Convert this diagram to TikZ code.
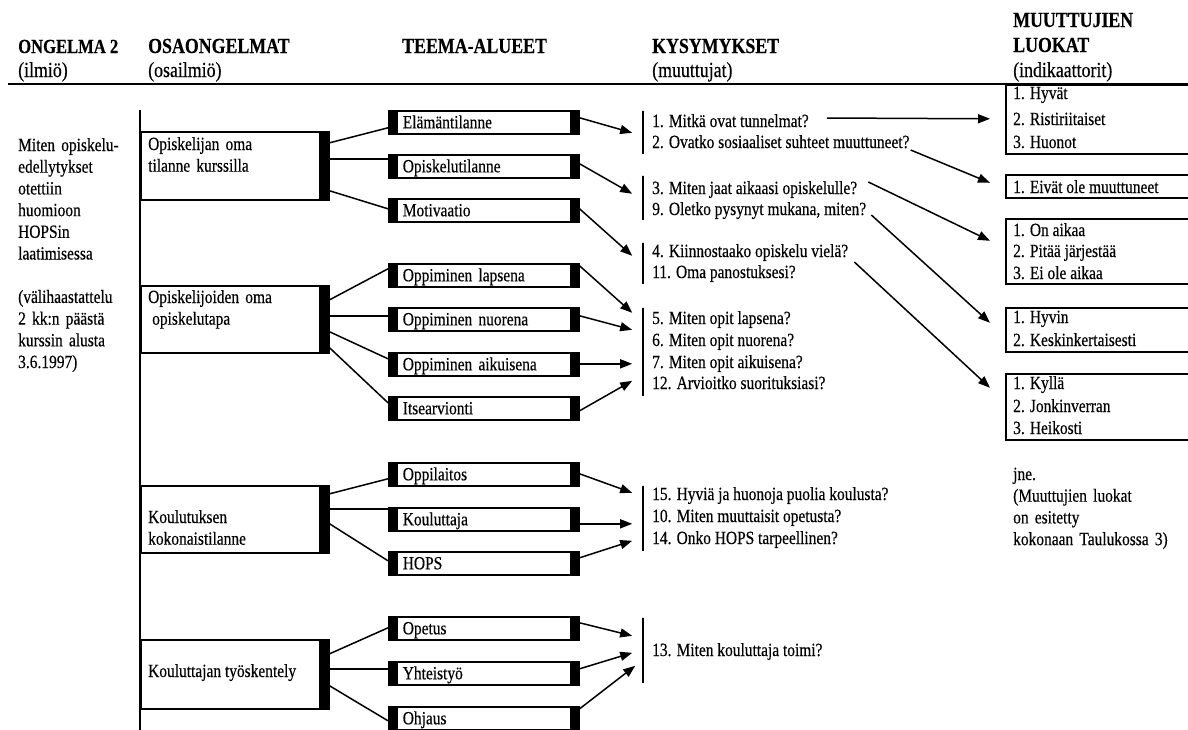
\documentclass[tikz,border=0pt]{standalone}
\usepackage{fontspec}
\setmainfont{Liberation Serif}[FakeStretch=0.83,FakeBold=0.35]
\usetikzlibrary{arrows.meta}

\begin{document}
\begin{tikzpicture}[x=1pt,y=-1pt,
  body/.style={font=\fontsize{18.6}{21.7}\selectfont, inner sep=0pt, anchor=base west},
  para/.style={body, text width=#1, align=left},
  head/.style={font=\fontsize{21.5}{24.5}\selectfont\bfseries, inner sep=0pt, anchor=base west},
  subhead/.style={font=\fontsize{21.5}{24.5}\selectfont, inner sep=0pt, anchor=base west},
  question/.style={body, text height=13pt, text depth=4pt},
  osabox/.style={draw, line width=1.6pt, anchor=north west, minimum width=188pt,
    minimum height=#1, inner sep=0pt,
    path picture={\fill ([xshift=-9.5pt]path picture bounding box.north east)
      rectangle (path picture bounding box.south east);}},
  themebox/.style={draw, line width=1.6pt, anchor=north west, minimum height=23pt,
    text width=162pt, inner xsep=14pt, inner ysep=0pt, align=left,
    text height=14pt, text depth=2pt, font=\fontsize{18.6}{21.7}\selectfont,
    path picture={\fill (path picture bounding box.north west)
      rectangle ([xshift=9pt]path picture bounding box.south west);
      \fill ([xshift=-8.5pt]path picture bounding box.north east)
      rectangle (path picture bounding box.south east);}},
  qbar/.style={draw, line width=1.6pt, anchor=north, minimum width=0pt,
    minimum height=#1, inner sep=0pt},
  catbox/.style={draw, line width=1.6pt, anchor=north west, minimum width=200pt,
    minimum height=#1, inner sep=0pt},
  conn/.style={line width=1.5pt},
  arr/.style={line width=1.5pt, -{Triangle[length=12pt,width=9pt]}}
]
\useasboundingbox (0,0) rectangle (1188,729);
\fill[white] (0,0) rectangle (1188,729);

% column headings
\node[head]    (h1)  at (18,53)   {\fontsize{20}{24}\selectfont ONGELMA 2};
\node[subhead] (h1s) at (18,77)   {(ilmiö)};
\node[head]    (h2)  at (148,53)  {OSAONGELMAT};
\node[subhead] (h2s) at (148,77)  {(osailmiö)};
\node[head]    (h3)  at (402,53)  {TEEMA-ALUEET};
\node[head]    (h4)  at (652,53)  {KYSYMYKSET};
\node[subhead] (h4s) at (652,77)  {(muuttujat)};
\node[head]    (h5a) at (1013,27) {MUUTTUJIEN};
\node[head]    (h5b) at (1013,52) {LUOKAT};
\node[subhead] (h5s) at (1013,77) {(indikaattorit)};

\coordinate (ruleL) at (8,84);
\coordinate (ruleR) at (1188,84);
\draw[line width=2.4pt] (ruleL) -- (ruleR);

% main problem
\node[para=125pt] (prob) at (18,151) {Miten opiskelu-\\edellytykset\\otettiin\\huomioon\\HOPSin\\laatimisessa\\[21.7pt](välihaastattelu\\2 kk:n päästä\\kurssin alusta\\3.6.1997)};

% spine of the sub-problems
\coordinate (spineT) at (140,110);
\coordinate (spineB) at (140,735);
\draw[conn] (spineT) -- (spineB);

% sub-problems
\node[osabox=68pt] (o1) at (140,131) {};
\node[osabox=67pt] (o2) at (140,285) {};
\node[osabox=67pt] (o3) at (140,485) {};
\node[osabox=69pt] (o4) at (140,639) {};
\node[para=170pt] (o1t) at (148,150) {Opiskelijan oma\\tilanne kurssilla};
\node[para=170pt] (o2t) at (148,303) {Opiskelijoiden oma\\\hspace*{4pt}opiskelutapa};
\node[para=170pt] (o3t) at (148,523) {Koulutuksen\\kokonaistilanne};
\node[body] (o4t) at (148,677) {Kouluttajan työskentely};

% theme areas
\node[themebox] (t1)  at (388,110) {Elämäntilanne};
\node[themebox] (t2)  at (388,154) {Opiskelutilanne};
\node[themebox] (t3)  at (388,198) {Motivaatio};
\node[themebox] (t4)  at (388,263) {Oppiminen lapsena};
\node[themebox] (t5)  at (388,307) {Oppiminen nuorena};
\node[themebox] (t6)  at (388,352) {Oppiminen aikuisena};
\node[themebox] (t7)  at (388,396) {Itsearvionti};
\node[themebox] (t8)  at (388,462) {Oppilaitos};
\node[themebox] (t9)  at (388,507) {Kouluttaja};
\node[themebox] (t10) at (388,551) {HOPS};
\node[themebox] (t11) at (388,616) {Opetus};
\node[themebox] (t12) at (388,661) {Yhteistyö};
\node[themebox] (t13) at (388,706) {Ohjaus};

% sub-problem -> theme links
\draw[conn] ([yshift=23pt]o1.east)    -- ([yshift=-5.5pt]t1.west);
\draw[conn] ([yshift=7pt]o1.east)     -- ([yshift=7.5pt]t2.west);
\draw[conn] ([yshift=-25pt]o1.east)   -- ([yshift=1.5pt]t3.west);
\draw[conn] ([yshift=19.5pt]o2.east)  -- ([yshift=6.5pt]t4.west);
\draw[conn] ([yshift=3.5pt]o2.east)   -- ([yshift=3.5pt]t5.west);
\draw[conn] ([yshift=-12.5pt]o2.east) -- ([yshift=5.5pt]t6.west);
\draw[conn] ([yshift=-28.5pt]o2.east) -- ([yshift=5.5pt]t7.west);
\draw[conn] ([yshift=25.5pt]o3.east)  -- ([yshift=-4.5pt]t8.west);
\draw[conn] ([yshift=10.5pt]o3.east)  -- ([yshift=10.5pt]t9.west);
\draw[conn] ([yshift=-4.5pt]o3.east)  -- ([yshift=2.5pt]t10.west);
\draw[conn] ([yshift=20.5pt]o4.east)  -- ([yshift=0.5pt]t11.west);
\draw[conn] ([yshift=5.5pt]o4.east)   -- ([yshift=4.5pt]t12.west);
\draw[conn] ([yshift=-11.5pt]o4.east) -- ([yshift=-2.5pt]t13.west);

% question groups
\node[qbar=43pt] (g1) at (643,110) {};
\node[qbar=44pt] (g2) at (643,175) {};
\node[qbar=41pt] (g3) at (643,242) {};
\node[qbar=88pt] (g4) at (643,307) {};
\node[qbar=65pt] (g5) at (643,485) {};
\node[qbar=65pt] (g6) at (643,617) {};

\node[question] (q1)  at (652,127) {1. Mitkä ovat tunnelmat?};
\node[question] (q2)  at (652,148) {2. Ovatko sosiaaliset suhteet muuttuneet?};
\node[question] (q3)  at (652,194) {3. Miten jaat aikaasi opiskelulle?};
\node[question] (q9)  at (652,215) {9. Oletko pysynyt mukana, miten?};
\node[question] (q4)  at (652,257) {4. Kiinnostaako opiskelu vielä?};
\node[question] (q11) at (652,278) {11. Oma panostuksesi?};
\node[question] (q5)  at (652,324) {5. Miten opit lapsena?};
\node[question] (q6)  at (652,346) {6. Miten opit nuorena?};
\node[question] (q7)  at (652,368) {7. Miten opit aikuisena?};
\node[question] (q12) at (652,389) {12. Arvioitko suorituksiasi?};
\node[question] (q15) at (652,500) {15. Hyviä ja huonoja puolia koulusta?};
\node[question] (q10) at (652,522) {10. Miten muuttaisit opetusta?};
\node[question] (q14) at (652,544) {14. Onko HOPS tarpeellinen?};
\node[question] (q13) at (652,656) {13. Miten kouluttaja toimi?};

% theme -> question arrows
\draw[arr] ([yshift=4.5pt]t1.east)  -- ([xshift=-10pt,yshift=-0.5pt]g1.west);
\draw[arr] ([yshift=2.5pt]t2.east)  -- ([xshift=-10pt,yshift=4pt]g2.west);
\draw[arr] ([yshift=1.5pt]t3.east)  -- ([xshift=-10pt,yshift=7.5pt]g3.west);
\draw[arr] ([yshift=9.5pt]t4.east)  -- ([xshift=-10pt,yshift=39pt]g4.west);
\draw[arr] ([yshift=3.5pt]t5.east)  -- ([xshift=-10pt,yshift=22pt]g4.west);
\draw[arr] ([yshift=0.5pt]t6.east)  -- ([xshift=-10pt,yshift=-12pt]g4.west);
\draw[arr] ([yshift=-2.5pt]t7.east) -- ([xshift=-10pt,yshift=-29pt]g4.west);
\draw[arr] ([yshift=0.5pt]t8.east)  -- ([xshift=-10pt,yshift=25.5pt]g5.west);
\draw[arr] ([yshift=-4.5pt]t9.east) -- ([xshift=-10pt,yshift=-5.5pt]g5.west);
\draw[arr] ([yshift=5.5pt]t10.east) -- ([xshift=-10pt,yshift=-22.5pt]g5.west);
\draw[arr] ([yshift=5.5pt]t11.east) -- ([xshift=-10pt,yshift=14.5pt]g6.west);
\draw[arr] ([yshift=4.5pt]t12.east) -- ([xshift=-10pt,yshift=-2.5pt]g6.west);
\draw[arr] ([yshift=9.5pt]t13.east) -- ([xshift=-7pt,yshift=-15.5pt]g6.west);

% variable classes
\node[catbox=69pt] (c1) at (1005,84)  {};
\node[catbox=23pt] (c2) at (1005,174) {};
\node[catbox=65pt] (c3) at (1005,218) {};
\node[catbox=44pt] (c4) at (1005,307) {};
\node[catbox=66pt] (c5) at (1005,373) {};

\node[body] (c1a) at (1013,99)  {1. Hyvät};
\node[body] (c1b) at (1013,125) {2. Ristiriitaiset};
\node[body] (c1c) at (1013,148) {3. Huonot};
\node[body] (c2a) at (1013,193) {1. Eivät ole muuttuneet};
\node[body] (c3a) at (1013,236) {1. On aikaa};
\node[body] (c3b) at (1013,257) {2. Pitää järjestää};
\node[body] (c3c) at (1013,279) {3. Ei ole aikaa};
\node[body] (c4a) at (1013,323) {1. Hyvin};
\node[body] (c4b) at (1013,346) {2. Keskinkertaisesti};
\node[body] (c5a) at (1013,389) {1. Kyllä};
\node[body] (c5b) at (1013,412) {2. Jonkinverran};
\node[body] (c5c) at (1013,434) {3. Heikosti};

\node[para=175pt] (note) at (1013,480) {jne.\\(Muuttujien luokat\\on esitetty\\kokonaan Taulukossa 3)};

% question -> class arrows
\draw[arr] ([xshift=18pt,yshift=4.5pt]q1.east)  -- ([xshift=-15pt,yshift=0.5pt]c1.west);
\draw[arr] ([xshift=1pt,yshift=-6.5pt]q2.east)  -- ([xshift=-15pt,yshift=3.5pt]c2.west);
\draw[arr] ([xshift=11pt,yshift=7.5pt]q3.east)  -- ([xshift=-15pt,yshift=10.5pt]c3.west);
\draw[arr] ([xshift=5pt,yshift=-4.5pt]q9.east)  -- ([xshift=-15pt,yshift=7pt]c4.west);
\draw[arr] ([xshift=6pt,yshift=-9.5pt]q4.east)  -- ([xshift=-15pt,yshift=19pt]c5.west);
\end{tikzpicture}
\end{document}
